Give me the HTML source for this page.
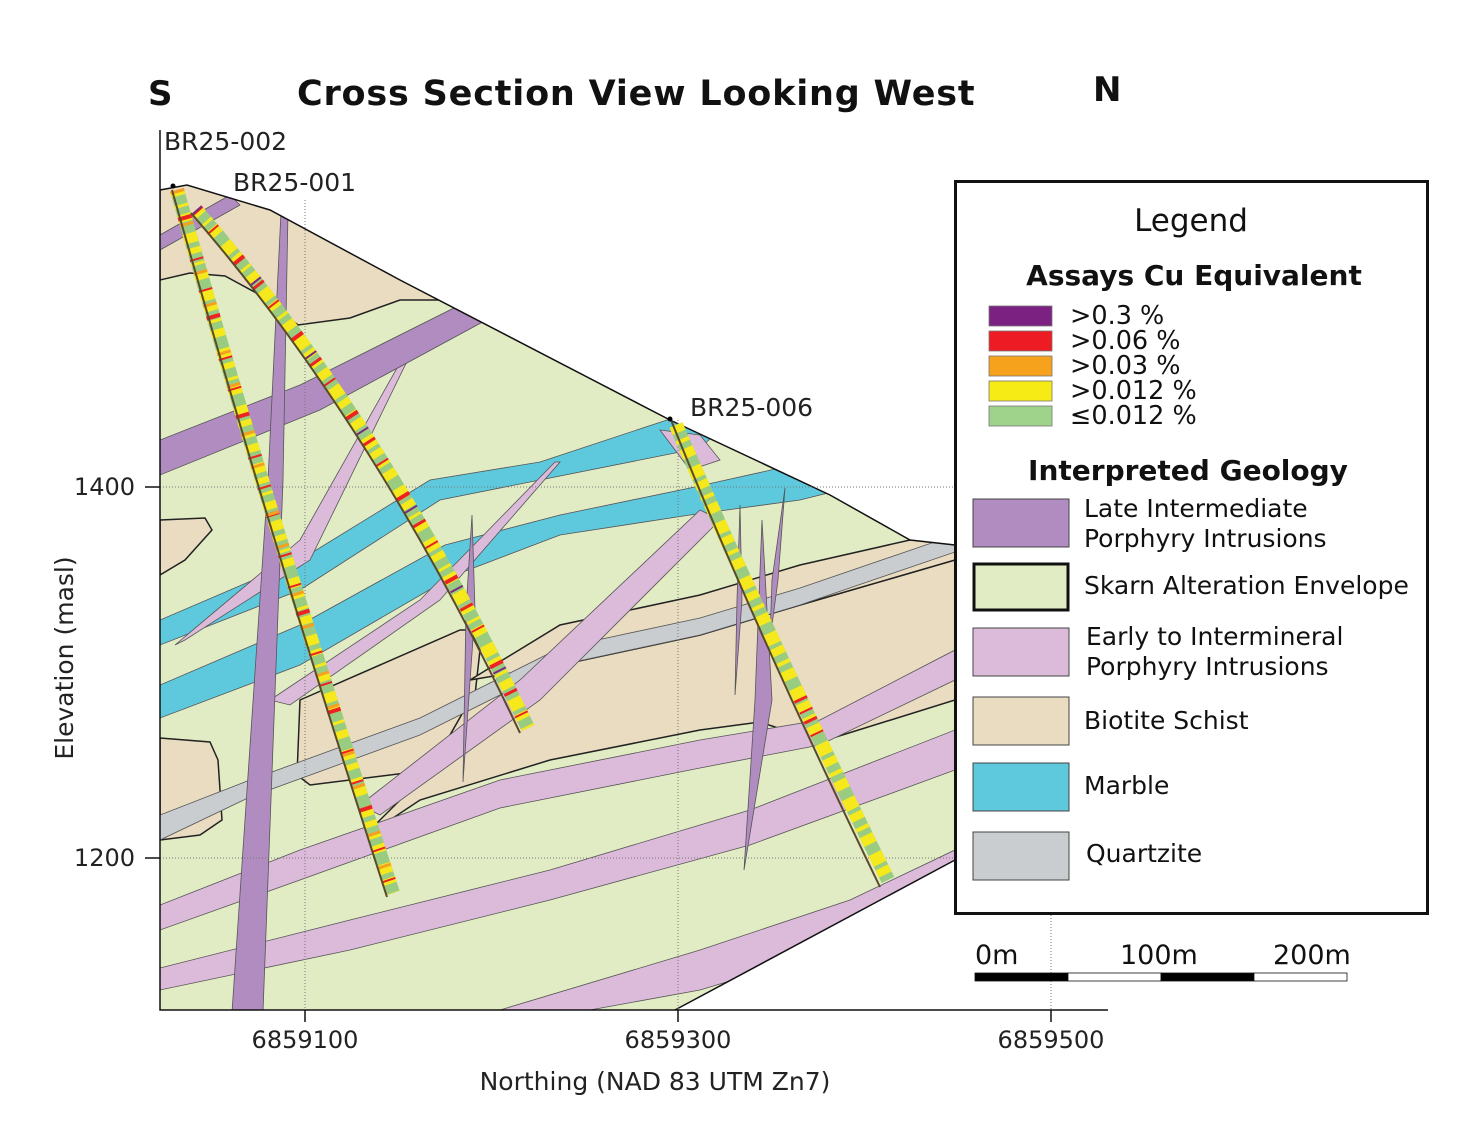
<!DOCTYPE html>
<html><head><meta charset="utf-8"><style>
html,body{margin:0;padding:0;background:#fff}
svg{display:block;font-family:"DejaVu Sans","Liberation Sans",sans-serif}
</style></head><body>
<svg width="1478" height="1139" viewBox="0 0 1478 1139" xmlns="http://www.w3.org/2000/svg">
<defs>
<clipPath id="geo"><path d="M160,190 L187,185 L270,210 L400,280 L670,420 L830,495 L910,540 L955,545 L955,860 L675,1010 L160,1010 Z"/></clipPath>
</defs>
<path d="M160,190 L187,185 L270,210 L400,280 L670,420 L830,495 L910,540 L955,545 L955,860 L675,1010 L160,1010 Z" fill="#e1ecc5"/>
<g clip-path="url(#geo)" stroke="#555" stroke-width="0.8">
<path d="M160,170 L500,170 L490,312 L450,300 L400,300 L350,318 L298,325 L260,295 L225,276 L190,273 L160,280 Z" fill="#e9dcc0" stroke="#222" stroke-width="1.5"/>
<path d="M160,520 L205,518 L212,530 L185,560 L160,575 Z" fill="#e9dcc0" stroke="#222" stroke-width="1.5"/>
<path d="M160,738 L210,742 L218,760 L222,820 L200,835 L160,840 Z" fill="#e9dcc0" stroke="#222" stroke-width="1.5"/>
<path d="M300,700 L460,630 L470,630 L480,650 L470,740 L430,770 L310,785 L297,775 Z" fill="#e9dcc0" stroke="#222" stroke-width="1.5"/>
<path d="M335,865 L360,840 L420,800 L550,760 L700,730 L760,722 L820,742 L955,700 L955,560 L800,605 L700,635 L560,665 L470,700 L430,770 L380,820 Z" fill="#e9dcc0" stroke="#222" stroke-width="1.5"/>
<path d="M470,680 L560,625 L700,595 L800,565 L910,540 L955,540 L955,560 L800,605 L700,635 L560,665 Z" fill="#e9dcc0" stroke="#222" stroke-width="1.5"/>
<path d="M160,815 L250,780 L420,718 L560,648 L700,618 L800,588 L955,535 L955,552 L800,605 L700,635 L560,665 L420,735 L250,797 L160,840 Z" fill="#c9cdd0"/>
<path d="M160,620 L300,560 L430,480 L540,462 L673,418 L720,430 L700,448 L540,480 L440,500 L300,590 L160,645 Z" fill="#5ec8dd"/>
<path d="M160,685 L300,625 L445,545 L560,515 L690,488 L780,468 L840,490 L800,500 L690,515 L560,535 L455,575 L300,665 L160,718 Z" fill="#5ec8dd"/>
<path d="M175,645 L300,540 L410,345 L415,345 L310,560 L185,640 Z" fill="#dcbad9"/>
<path d="M270,700 L420,600 L555,462 L560,462 L440,600 L290,705 Z" fill="#dcbad9"/>
<path d="M360,805 L520,680 L700,510 L720,520 L540,700 L380,815 Z" fill="#dcbad9"/>
<path d="M160,905 L300,850 L500,780 L700,740 L820,720 L955,650 L955,680 L820,745 L700,768 L500,808 L300,880 L160,930 Z" fill="#dcbad9"/>
<path d="M160,968 L350,920 L550,870 L750,810 L955,730 L955,770 L750,845 L550,900 L350,950 L160,990 Z" fill="#dcbad9"/>
<path d="M500,1010 L700,950 L850,900 L955,850 L955,900 L850,945 L700,990 L590,1010 Z" fill="#dcbad9"/>
<path d="M660,430 L700,435 L720,460 L690,470 Z" fill="#dcbad9"/>
<path d="M160,235 L230,195 L240,205 L160,250 Z" fill="#b18cc0"/>
<path d="M160,440 L300,385 L460,305 L490,318 L320,410 L160,475 Z" fill="#b18cc0"/>
<path d="M232,1012 L263,1012 L283,480 L288,212 L281,212 L268,480 Z" fill="#b18cc0"/>
<path d="M472,515 L475,610 L463,782 L466,610 Z" fill="#b18cc0"/>
<path d="M740,505 L742,600 L735,695 L737,600 Z" fill="#b18cc0"/>
<path d="M762,520 L772,700 L744,870 L755,700 Z" fill="#b18cc0"/>
<path d="M785,488 L778,580 L770,640 L772,580 Z" fill="#b18cc0"/>
</g>
<path d="M160,190 L187,185 L270,210 L400,280 L670,420 L830,495 L910,540 L955,545" fill="none" stroke="#111" stroke-width="1.5"/>
<path d="M955,860 L675,1010" fill="none" stroke="#111" stroke-width="1.5"/>
<g stroke="#777" stroke-width="1" stroke-dasharray="1,2" fill="none">
<path d="M160,487 H955 M160,858 H955 M305,200 V1010 M678,420 V1010 M1051,915 V1010"/>
</g>
<g fill="none" stroke-linecap="butt">
<path d="M177,190 Q270,520 393,893" stroke="#99cc80" stroke-width="14"/>
<path d="M177,190 Q270,520 393,893" stroke="#f5e81c" stroke-width="14" stroke-dasharray="6,9,3,7,8,12,10,5"/>
<path d="M177,190 Q270,520 393,893" stroke="#ee2222" stroke-width="14" stroke-dasharray="2,25,4,40,2,30"/>
<path d="M177,190 Q270,520 393,893" stroke="#f6a020" stroke-width="14" stroke-dasharray="3,31,3,47"/>
<path d="M172,190 Q265,520 387,897" stroke="#5a4a2a" stroke-width="2"/>
<path d="M196,210 Q380,420 528,728" stroke="#99cc80" stroke-width="14"/>
<path d="M196,210 Q380,420 528,728" stroke="#f5e81c" stroke-width="14" stroke-dasharray="7,8,3,6,9,11,12,4"/>
<path d="M196,210 Q380,420 528,728" stroke="#ee2222" stroke-width="14" stroke-dasharray="3,22,2,37,4,28"/>
<path d="M196,210 Q380,420 528,728" stroke="#7a2a80" stroke-width="14" stroke-dasharray="2,90"/>
<path d="M191,213 Q375,425 520,733" stroke="#5a4a2a" stroke-width="2"/>
<path d="M676,425 Q760,620 888,880" stroke="#99cc80" stroke-width="14"/>
<path d="M676,425 Q760,620 888,880" stroke="#f5e81c" stroke-width="14" stroke-dasharray="8,7,4,6,10,10,12,4"/>
<path d="M676,425 Q760,620 888,880" stroke="#ee2222" stroke-width="14" stroke-dasharray="0,300,3,10,2,8,3,12,2,25"/>
<path d="M671,420 Q753,625 880,887" stroke="#5a4a2a" stroke-width="2"/>
</g>
<circle cx="173" cy="186" r="2.5" fill="#000"/><circle cx="670" cy="419" r="2.5" fill="#000"/>
<path d="M160,130 V1010 H1108" fill="none" stroke="#111" stroke-width="1.5"/>
<path d="M145,487 H160 M145,858 H160 M305,1010 V1022 M678,1010 V1022 M1051,1010 V1022" stroke="#111" stroke-width="1.5"/>
<g font-size="24" fill="#222">
<text x="135" y="495" text-anchor="end">1400</text>
<text x="135" y="866" text-anchor="end">1200</text>
<text x="305" y="1048" text-anchor="middle">6859100</text>
<text x="678" y="1048" text-anchor="middle">6859300</text>
<text x="1051" y="1048" text-anchor="middle">6859500</text>
<text x="655" y="1090" text-anchor="middle" font-size="25">Northing (NAD 83 UTM Zn7)</text>
<text transform="translate(73,658) rotate(-90)" text-anchor="middle" font-size="25">Elevation (masl)</text>
<text x="164" y="150" font-size="25">BR25-002</text>
<text x="233" y="191" font-size="25">BR25-001</text>
<text x="690" y="416" font-size="25">BR25-006</text>
</g>
<g font-weight="bold" fill="#111">
<text x="148" y="105" font-size="34">S</text>
<text x="297" y="105" font-size="35" letter-spacing="0.8">Cross Section View Looking West</text>
<text x="1093" y="101" font-size="34">N</text>
</g>
<rect x="955.5" y="181.5" width="472" height="732" fill="#fff" stroke="#111" stroke-width="3"/>
<text x="1191" y="231" font-size="31" text-anchor="middle" fill="#111">Legend</text>
<text x="1194" y="285" font-size="28" font-weight="bold" text-anchor="middle" fill="#111">Assays Cu Equivalent</text>
<g stroke="#777" stroke-width="0.8">
<rect x="989" y="306" width="63" height="20" fill="#7b2181"/>
<rect x="989" y="331" width="63" height="20" fill="#ed1c24"/>
<rect x="989" y="356" width="63" height="20" fill="#f7a21c"/>
<rect x="989" y="381" width="63" height="20" fill="#f6eb14"/>
<rect x="989" y="406" width="63" height="20" fill="#9fd38b"/>
</g>
<g font-size="25.5" fill="#111">
<text x="1070" y="324">&gt;0.3 %</text>
<text x="1070" y="349">&gt;0.06 %</text>
<text x="1070" y="374">&gt;0.03 %</text>
<text x="1070" y="399">&gt;0.012 %</text>
<text x="1070" y="424">≤0.012 %</text>
</g>
<text x="1188" y="480" font-size="28" font-weight="bold" text-anchor="middle" fill="#111">Interpreted Geology</text>
<g stroke="#444" stroke-width="1">
<rect x="973" y="499" width="96" height="48" fill="#b18cc0"/>
<rect x="974" y="564" width="94" height="46" fill="#e1ecc5" stroke="#111" stroke-width="3"/>
<rect x="973" y="628" width="96" height="48" fill="#dcbad9"/>
<rect x="973" y="697" width="96" height="48" fill="#e9dcc0"/>
<rect x="973" y="763" width="96" height="48" fill="#5ec8dd"/>
<rect x="973" y="832" width="96" height="48" fill="#c9cdd0"/>
</g>
<g font-size="25" fill="#111">
<text x="1084" y="517">Late Intermediate</text>
<text x="1084" y="547">Porphyry Intrusions</text>
<text x="1084" y="594">Skarn Alteration Envelope</text>
<text x="1086" y="645">Early to Intermineral</text>
<text x="1086" y="675">Porphyry Intrusions</text>
<text x="1084" y="729">Biotite Schist</text>
<text x="1084" y="794">Marble</text>
<text x="1086" y="862">Quartzite</text>
</g>
<g stroke="#111" stroke-width="0.8">
<rect x="975" y="973" width="93" height="8" fill="#000"/>
<rect x="1068" y="973" width="93" height="8" fill="#fff"/>
<rect x="1161" y="973" width="93" height="8" fill="#000"/>
<rect x="1254" y="973" width="93" height="8" fill="#fff"/>
</g>
<g font-size="27" fill="#111">
<text x="975" y="964">0m</text>
<text x="1120" y="964">100m</text>
<text x="1273" y="964">200m</text>
</g>
</svg>
</body></html>
